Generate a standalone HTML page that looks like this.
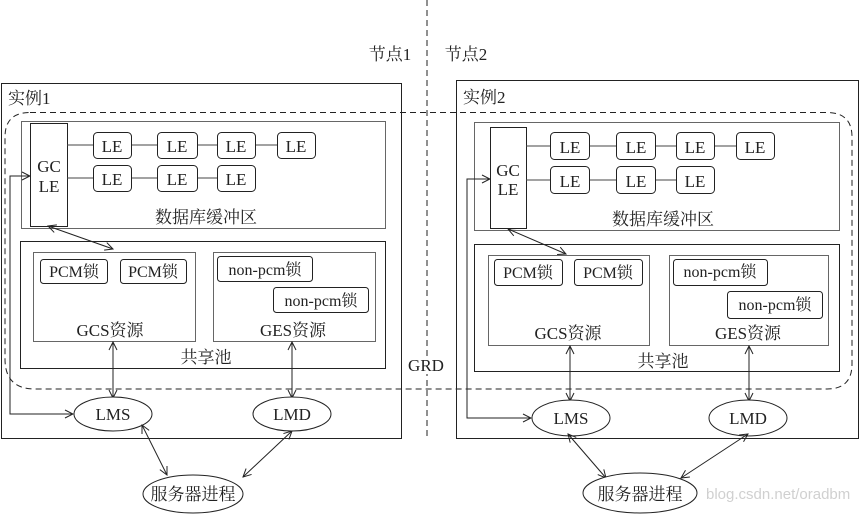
<!DOCTYPE html>
<html><head><meta charset="utf-8"><style>
html,body{margin:0;padding:0;background:#fff;}
svg{display:block;}
text{font-family:"Liberation Serif","Noto Serif CJK SC",serif;fill:#222;}
</style></head><body>
<svg width="861" height="515" viewBox="0 0 861 515" xmlns="http://www.w3.org/2000/svg">
<defs>
<marker id="a" markerWidth="10" markerHeight="10" refX="9" refY="5" orient="auto-start-reverse" markerUnits="userSpaceOnUse">
<path d="M1,1 L9,5 L1,9" fill="none" stroke="#222" stroke-width="1"/>
</marker>
</defs>
<line x1="427" y1="0" x2="427" y2="440" stroke="#222" stroke-dasharray="6,4"/>
<text x="390" y="60" font-size="17" text-anchor="middle">节点1</text>
<text x="466" y="60" font-size="17" text-anchor="middle">节点2</text>

<rect x="1.5" y="83.5" width="400" height="355" fill="none" stroke="#222"/>
<text x="8" y="104" font-size="17">实例1</text>
<rect x="21.5" y="121.5" width="364" height="107" fill="none" stroke="#666"/>
<rect x="30.5" y="123.5" width="37" height="103" fill="#fff" stroke="#222"/>
<text x="49" y="172" font-size="17" text-anchor="middle">GC</text>
<text x="49" y="192" font-size="17" text-anchor="middle">LE</text>
<g stroke="#444"><line x1="67" y1="145" x2="277" y2="145"/><line x1="67" y1="178" x2="217" y2="178"/></g>
<g fill="#fff" stroke="#222">
<rect x="93.5" y="132.5" width="38" height="26" rx="4"/><rect x="157.5" y="132.5" width="40" height="26" rx="4"/><rect x="217.5" y="132.5" width="38" height="26" rx="4"/><rect x="277.5" y="132.5" width="38" height="26" rx="4"/>
<rect x="93.5" y="165.5" width="38" height="26" rx="4"/><rect x="157.5" y="165.5" width="40" height="26" rx="4"/><rect x="217.5" y="165.5" width="38" height="26" rx="4"/>
</g>
<g font-size="17" text-anchor="middle">
<text x="112" y="152">LE</text><text x="177" y="152">LE</text><text x="236" y="152">LE</text><text x="296" y="152">LE</text>
<text x="112" y="185">LE</text><text x="177" y="185">LE</text><text x="236" y="185">LE</text>
<text x="206" y="223">数据库缓冲区</text>
</g>
<rect x="20.5" y="241.5" width="365" height="127" fill="none" stroke="#222"/>
<rect x="33.5" y="252.5" width="162" height="89" fill="none" stroke="#666"/>
<rect x="213.5" y="252.5" width="162" height="89" fill="none" stroke="#666"/>
<g fill="#fff" stroke="#222">
<rect x="40.5" y="259.5" width="67" height="24" rx="3"/><rect x="120.5" y="259.5" width="66" height="24" rx="3"/>
<rect x="217.5" y="256.5" width="95" height="25" rx="3"/><rect x="273.5" y="287.5" width="95" height="25" rx="3"/>
</g>
<g font-size="16" text-anchor="middle">
<text x="74" y="277">PCM锁</text><text x="153" y="277">PCM锁</text>
<text x="265" y="275">non-pcm锁</text><text x="321" y="306">non-pcm锁</text>
</g>
<g font-size="17" text-anchor="middle">
<text x="110" y="336">GCS资源</text><text x="293" y="336">GES资源</text><text x="206" y="363">共享池</text>
</g>
<line x1="48" y1="226" x2="113" y2="249" stroke="#222" marker-start="url(#a)" marker-end="url(#a)"/>
<line x1="113" y1="342" x2="113" y2="398" stroke="#222" marker-start="url(#a)" marker-end="url(#a)"/>
<line x1="292" y1="342" x2="292" y2="398" stroke="#222" marker-start="url(#a)" marker-end="url(#a)"/>
<polyline points="73,414 10,414 10,176 30,176" fill="none" stroke="#222" marker-start="url(#a)" marker-end="url(#a)"/>
<ellipse cx="113" cy="414" rx="39" ry="17" fill="#fff" stroke="#222"/>
<ellipse cx="292" cy="414" rx="39" ry="17" fill="#fff" stroke="#222"/>
<text x="113" y="420" font-size="17" text-anchor="middle">LMS</text>
<text x="292" y="420" font-size="17" text-anchor="middle">LMD</text>
<line x1="142" y1="425" x2="167" y2="475" stroke="#222" marker-start="url(#a)" marker-end="url(#a)"/>
<line x1="292" y1="431" x2="243" y2="477" stroke="#222" marker-start="url(#a)" marker-end="url(#a)"/>
<ellipse cx="193" cy="494" rx="50" ry="19" fill="#fff" stroke="#222"/>
<text x="193" y="500" font-size="17" text-anchor="middle">服务器进程</text>

<rect x="456.5" y="80.5" width="402" height="358" fill="none" stroke="#222"/>
<text x="463" y="103" font-size="17">实例2</text>
<rect x="474.5" y="122.5" width="365" height="108" fill="none" stroke="#666"/>
<rect x="490.5" y="127.5" width="36" height="101" fill="#fff" stroke="#222"/>
<text x="508" y="176" font-size="17" text-anchor="middle">GC</text>
<text x="508" y="195" font-size="17" text-anchor="middle">LE</text>
<g stroke="#444"><line x1="526" y1="146" x2="736" y2="146"/><line x1="526" y1="180" x2="676" y2="180"/></g>
<g fill="#fff" stroke="#222">
<rect x="550.5" y="132.5" width="39" height="27" rx="4"/><rect x="616.5" y="132.5" width="39" height="27" rx="4"/><rect x="676.5" y="132.5" width="38" height="27" rx="4"/><rect x="736.5" y="132.5" width="38" height="27" rx="4"/>
<rect x="550.5" y="166.5" width="39" height="27" rx="4"/><rect x="616.5" y="166.5" width="39" height="27" rx="4"/><rect x="676.5" y="166.5" width="38" height="27" rx="4"/>
</g>
<g font-size="17" text-anchor="middle">
<text x="570" y="153">LE</text><text x="636" y="153">LE</text><text x="695" y="153">LE</text><text x="755" y="153">LE</text>
<text x="570" y="187">LE</text><text x="636" y="187">LE</text><text x="695" y="187">LE</text>
<text x="663" y="225">数据库缓冲区</text>
</g>
<rect x="474.5" y="244.5" width="365" height="127" fill="none" stroke="#222"/>
<rect x="488.5" y="255.5" width="161" height="90" fill="none" stroke="#666"/>
<rect x="669.5" y="255.5" width="159" height="90" fill="none" stroke="#666"/>
<g fill="#fff" stroke="#222">
<rect x="494.5" y="259.5" width="68" height="26" rx="3"/><rect x="574.5" y="259.5" width="68" height="26" rx="3"/>
<rect x="673.5" y="259.5" width="94" height="26" rx="3"/><rect x="727.5" y="291.5" width="95" height="27" rx="3"/>
</g>
<g font-size="16" text-anchor="middle">
<text x="528" y="278">PCM锁</text><text x="608" y="278">PCM锁</text>
<text x="720" y="277">non-pcm锁</text><text x="775" y="310">non-pcm锁</text>
</g>
<g font-size="17" text-anchor="middle">
<text x="568" y="339">GCS资源</text><text x="748" y="339">GES资源</text><text x="663" y="367">共享池</text>
</g>
<line x1="508" y1="229" x2="566" y2="254" stroke="#222" marker-start="url(#a)" marker-end="url(#a)"/>
<line x1="570" y1="346" x2="570" y2="401" stroke="#222" marker-start="url(#a)" marker-end="url(#a)"/>
<line x1="749" y1="346" x2="749" y2="401" stroke="#222" marker-start="url(#a)" marker-end="url(#a)"/>
<polyline points="531,418 467,418 467,179 490,179" fill="none" stroke="#222" marker-start="url(#a)" marker-end="url(#a)"/>
<ellipse cx="571" cy="418" rx="39" ry="18" fill="#fff" stroke="#222"/>
<ellipse cx="748" cy="418" rx="39" ry="18" fill="#fff" stroke="#222"/>
<text x="571" y="424" font-size="17" text-anchor="middle">LMS</text>
<text x="748" y="424" font-size="17" text-anchor="middle">LMD</text>
<line x1="568" y1="434" x2="606" y2="478" stroke="#222" marker-start="url(#a)" marker-end="url(#a)"/>
<line x1="748" y1="434" x2="681" y2="478" stroke="#222" marker-start="url(#a)" marker-end="url(#a)"/>
<ellipse cx="640" cy="493" rx="57" ry="20" fill="#fff" stroke="#222"/>
<text x="640" y="500" font-size="17" text-anchor="middle">服务器进程</text>
<text x="706" y="499" font-size="15" style="fill:#d0d0d0;font-family:'Liberation Sans',sans-serif">blog.csdn.net/oradbm</text>

<path d="M30,112.5 L827,112.5 Q852,112.5 852,137 L852,364 Q852,389 827,389 L35,389 Q5,389 5,359 L5,137 Q5,112.5 30,112.5 Z" fill="none" stroke="#222" stroke-dasharray="6,4"/>
<rect x="406" y="356" width="40" height="18" fill="#fff"/>
<text x="426" y="371" font-size="17" text-anchor="middle">GRD</text>
</svg>
</body></html>
